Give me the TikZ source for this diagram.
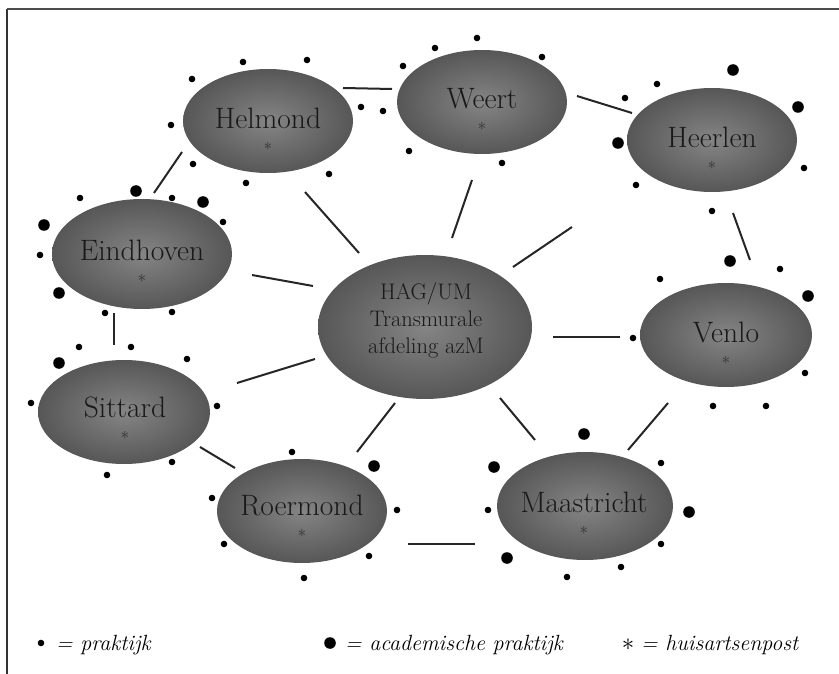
\documentclass[tikz,border=0pt]{standalone}
\usepackage{fontspec}
\usetikzlibrary{shapes.geometric,calc}
\newcommand{\hstar}{{\fontsize{17}{17}\selectfont\color{black!80}$\ast$}}
\begin{document}
\begin{tikzpicture}[x=1pt,y=-1pt,
  city/.style={ellipse,draw=none,inner sep=0pt,shading=radial,inner color=black!48,outer color=black!66},
  nm/.style={font=\fontsize{29.5}{22}\selectfont,text=black!90,inner sep=0pt,align=center,anchor=north},
  cnm/.style={font=\fontsize{22.5}{27}\selectfont,text=black!90,inner sep=0pt,align=center},
  conn/.style={line width=2pt,black!85},
  sdot/.style={fill=black},
  leg/.style={font=\fontsize{22}{24}\itshape\selectfont,inner sep=0pt,anchor=base west}]
\useasboundingbox (0,0) rectangle (839,674);
\fill[white] (0,0) rectangle (839,674);
% frame
\draw[line width=2pt,black!80] (7,674) -- (7,9);
\draw[line width=1.5pt,black!70] (7,9) -- (839,9);
% cities
\node[city,minimum width=170,minimum height=104] (hel) at (268,121) {};
\node[city,minimum width=170,minimum height=104] (wee) at (482,102) {};
\node[city,minimum width=170,minimum height=104] (hee) at (712,140) {};
\node[city,minimum width=180,minimum height=110] (ein) at (142,254) {};
\node[city,minimum width=214,minimum height=144] (cen) at (425,327) {};
\node[city,minimum width=172,minimum height=104] (ven) at (726,335) {};
\node[city,minimum width=172,minimum height=104] (sit) at (124,412) {};
\node[city,minimum width=170,minimum height=104] (roe) at (302,511) {};
\node[city,minimum width=176,minimum height=108] (maa) at (585,506) {};
% labels
\node[nm] (helt) at ($(hel)+(0,-13)$) {Helmond\\\hstar};
\node[nm] (weet) at ($(wee)+(0,-14)$) {Weert\\\hstar};
\node[nm] (heet) at ($(hee)+(0,-13)$) {Heerlen\\\hstar};
\node[nm] (eint) at ($(ein)+(0,-14)$) {Eindhoven\\\hstar};
\node[nm] (vent) at ($(ven)+(0,-13)$) {Venlo\\\hstar};
\node[nm] (sitt) at ($(sit)+(1,-15)$) {Sittard\\\hstar};
\node[nm] (roet) at ($(roe)+(0,-16)$) {Roermond\\\hstar};
\node[nm] (maat) at ($(maa)+(-1,-14)$) {Maastricht\\\hstar};
\node[cnm] (cent) at ($(cen)+(1,-7)$) {HAG/UM\\Transmurale\\afdeling azM};
% connector end points
\coordinate (c1a) at (343,88);  \coordinate (c1b) at (392,89);
\coordinate (c2a) at (577,96);  \coordinate (c2b) at (632,113);
\coordinate (c3a) at (733,213); \coordinate (c3b) at (750,260);
\coordinate (c4a) at (553,337); \coordinate (c4b) at (620,337);
\coordinate (c5a) at (668,403); \coordinate (c5b) at (628,450);
\coordinate (c6a) at (500,398); \coordinate (c6b) at (535,440);
\coordinate (c7a) at (408,544); \coordinate (c7b) at (475,544);
\coordinate (c8a) at (395,403); \coordinate (c8b) at (357,452);
\coordinate (c9a) at (200,447); \coordinate (c9b) at (235,468);
\coordinate (c10a) at (237,383); \coordinate (c10b) at (315,359);
\coordinate (c11a) at (114,313); \coordinate (c11b) at (114,345);
\coordinate (c12a) at (252,275); \coordinate (c12b) at (313,286);
\coordinate (c13a) at (154,193); \coordinate (c13b) at (182,152);
\coordinate (c14a) at (305,192); \coordinate (c14b) at (359,253);
\coordinate (c15a) at (472,180); \coordinate (c15b) at (452,238);
\coordinate (c16a) at (572,227); \coordinate (c16b) at (513,267);
\foreach \i in {1,...,16} {\draw[conn] (c\i a) -- (c\i b);}
% small dots (praktijk)
\foreach \p in {(243,62),(307,60),(192,79),(171,125),(193,164),(246,183),(329,174),(361,107),(383,111),(403,66),(409,151),(80,198),(172,198),(223,222),(40,255),(105,313),(172,312),(435,48),(477,38),(542,57),(502,163),(657,84),(625,98),(804,168),(636,185),(712,211),(780,269),(660,279),(633,338),(79,347),(131,347),(187,359),(31,403),(217,406),(172,462),(107,475),(292,452),(212,498),(397,510),(224,544),(369,556),(304,578),(805,373),(713,406),(766,406),(661,463),(488,510),(661,544),(621,567),(567,577)}
  {\fill[sdot] \p circle (3.3);}
% large dots (academische praktijk)
\foreach \p in {(136,191),(203,202),(44,225),(59,293),(733,70),(798,107),(618,143),(730,261),(808,296),(59,363),(374,466),(584,434),(494,467),(689,512),(507,558)}
  {\fill[sdot] \p circle (5.8);}
% legend
\fill[sdot] (41,643) circle (3.3);
\node[leg] (l1) at (56,650) {= praktijk};
\fill[sdot] (330,643) circle (5.8);
\node[leg] (l2) at (345,650) {= academische praktijk};
\node[font=\fontsize{24}{24}\selectfont,inner sep=0pt] (l3s) at (628,645) {$\ast$};
\node[leg] (l3) at (641,650) {= huisartsenpost};
\end{tikzpicture}
\end{document}
